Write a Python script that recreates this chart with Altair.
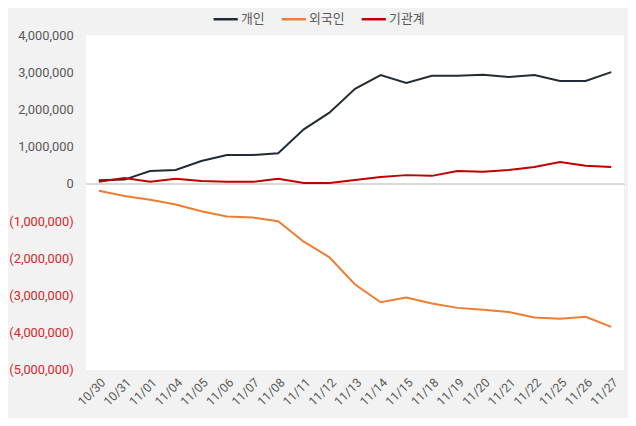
import altair as alt
import pandas as pd

dates = ["10/30", "10/31", "11/01", "11/04", "11/05", "11/06", "11/07", "11/08",
         "11/11", "11/12", "11/13", "11/14", "11/15", "11/18", "11/19", "11/20",
         "11/21", "11/22", "11/25", "11/26", "11/27"]

individual = [100000, 120000, 350000, 380000, 620000, 780000, 780000, 830000,
              1470000, 1920000, 2560000, 2930000, 2720000, 2910000, 2910000, 2940000,
              2880000, 2930000, 2770000, 2770000, 3010000]

foreign = [-180000, -320000, -420000, -550000, -730000, -870000, -900000, -1000000,
           -1550000, -1970000, -2700000, -3180000, -3050000, -3210000, -3330000, -3380000,
           -3440000, -3590000, -3620000, -3570000, -3840000]

institution = [60000, 160000, 60000, 140000, 80000, 60000, 60000, 140000,
               30000, 30000, 110000, 190000, 240000, 220000, 350000, 330000,
               380000, 460000, 590000, 490000, 460000]

series_names = ["개인", "외국인", "기관계"]
series_colors = ["#222a35", "#ed7d31", "#c00000"]
y_ticks = [-5000000, -4000000, -3000000, -2000000, -1000000, 0,
           1000000, 2000000, 3000000, 4000000]

rows = []
for name, vals in zip(series_names, [individual, foreign, institution]):
    for d, v in zip(dates, vals):
        rows.append({"date": d, "series": name, "value": v})
df = pd.DataFrame(rows)

font = "Roboto, 'Noto Sans CJK KR'"
kfont = "'Noto Sans CJK KR'"

yscale = alt.Scale(domain=[-5000000, 4000000], nice=False)
yaxis = alt.Axis(title=None, values=y_ticks,
                 labelExpr="datum.value < 0 ? '(' + format(-datum.value, ',') + ')' : format(datum.value, ',')",
                 labelColor={"expr": "datum.value < 0 ? '#d9262b' : '#595959'"},
                 labelFontSize=13, labelFont=font, grid=False, domain=False, ticks=False,
                 labelPadding=13, labelOverlap=False, labelBound=False)

zero = alt.Chart(df).mark_rule(color="#d9d9d9", strokeWidth=1).encode(
    y=alt.datum(0, scale=yscale, axis=yaxis)
)

lines = alt.Chart(df).mark_line(strokeWidth=2).encode(
    x=alt.X("date:N", sort=dates, scale=alt.Scale(type="point", padding=0.5),
            axis=alt.Axis(title=None, labelAngle=-45, labelFontSize=12.5, labelColor="#595959",
                          labelFont=font, domain=False, ticks=False, labelPadding=6,
                          labelOverlap=False)),
    y=alt.Y("value:Q", scale=yscale, axis=yaxis),
    color=alt.Color("series:N", sort=series_names,
                    scale=alt.Scale(domain=series_names, range=series_colors),
                    legend=alt.Legend(title=None, orient="none", legendX=128, legendY=-30,
                                      direction="horizontal", symbolType="stroke",
                                      symbolStrokeWidth=2.5, symbolSize=600,
                                      labelFontSize=13, labelColor="#595959", labelFont=kfont,
                                      columnPadding=12, labelOffset=2)),
    order=alt.Order("series:N")
)

chart = alt.layer(zero, lines).properties(
    width=545, height=339,
    autosize=alt.AutoSizeParams(type="none"),
    padding={"left": 79, "top": 25, "right": 4, "bottom": 46},
    background="#f2f2f2"
).configure_view(fill="white", stroke=None)

chart.save("out.html", embed_options={"renderer": "svg", "actions": False})
